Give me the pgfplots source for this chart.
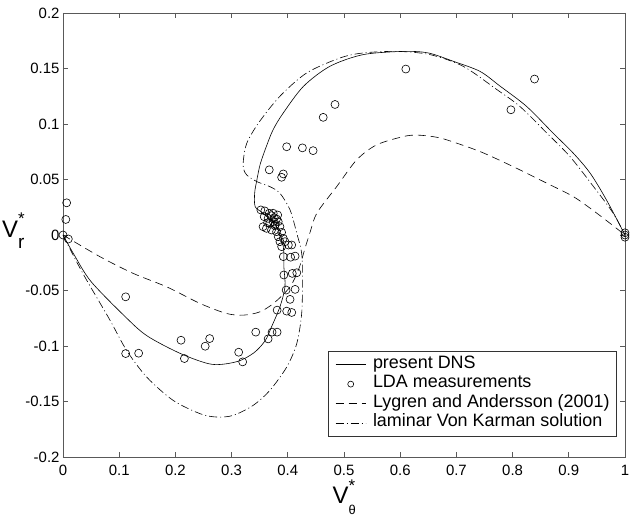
\documentclass[border=0pt]{standalone}
\usepackage{fontspec}
\setmainfont{Liberation Sans}
\usepackage{pgfplots}
\pgfplotsset{compat=1.18}
\pgfplotsset{circlegend/.style={legend image code/.code={\draw[##1, mark size=3bp] plot coordinates {(15bp,0bp)};}}}
\newcommand{\Vth}{{\fontsize{24}{24}\selectfont V}\rlap{\raisebox{-11bp}{\fontsize{13}{13}\selectfont θ}}\raisebox{12bp}{\fontsize{17}{17}\selectfont *}}
\newcommand{\Vr}{{\fontsize{24}{24}\selectfont V}\rlap{\raisebox{-11bp}{\fontsize{19}{19}\selectfont r}}\raisebox{13bp}{\fontsize{17}{17}\selectfont *}}
\begin{document}
\begin{tikzpicture}
\begin{axis}[
  scale only axis, width=562bp, height=444bp,
  xmin=0, xmax=1, ymin=-0.2, ymax=0.2,
  xtick={0,0.1,0.2,0.3,0.4,0.5,0.6,0.7,0.8,0.9,1},
  ytick={-0.2,-0.15,-0.1,-0.05,0,0.05,0.1,0.15,0.2},
  scaled ticks=false,
  /pgf/number format/assume math mode=true,
  tick align=inside, major tick length=5bp,
  axis line style={black!65, line width=0.9bp},
  every tick/.style={black!65, line width=0.9bp},
  tick label style={font=\fontsize{15}{15}\selectfont},
  yticklabel style={/pgf/number format/fixed, /pgf/number format/precision=2},
  xticklabel style={/pgf/number format/fixed, /pgf/number format/precision=1, yshift=-5bp},
  xlabel={\Vth},
  ylabel={\Vr},
  xlabel style={at={(axis description cs:0.5,0)}, anchor=base, yshift=-46bp, inner sep=0pt},
  ylabel style={at={(axis description cs:0,0.5)}, rotate=-90, anchor=base west, xshift=-61bp, yshift=-2bp, inner sep=0pt},
  legend style={at={(axis description cs:0.9858,0.045)}, anchor=south east,
    draw=black!80, line width=0.8bp, fill=white,
    inner xsep=7bp, inner ysep=3.75bp,
    font=\fontsize{18}{19.5}\selectfont,
    nodes={inner xsep=0bp, inner ysep=1bp, text height=12.5bp, text depth=5bp},
    column sep=7bp},
  legend cell align=left,
  legend image code/.code={\draw[#1] (0bp,0bp) -- (30bp,0bp);},
]
\addplot[black, line width=0.6bp, smooth, tension=0.5] coordinates {
(0,0) (0.02,-0.018) (0.05,-0.042) (0.1115,-0.074) (0.15,-0.091) (0.21,-0.107)
(0.265,-0.1165) (0.31,-0.114) (0.34,-0.106) (0.36,-0.095) (0.371,-0.0828)
(0.386,-0.0647) (0.395,-0.0467) (0.393,-0.0286) (0.392,-0.0105) (0.38,0.0075)
(0.356,0.0196) (0.342,0.0255) (0.341,0.0376) (0.345,0.0497) (0.351,0.064)
(0.362,0.08) (0.374,0.095) (0.392,0.11) (0.428,0.134) (0.475,0.152)
(0.534,0.1625) (0.6056,0.1654) (0.65,0.164) (0.695,0.1564) (0.742,0.1474)
(0.778,0.134) (0.825,0.1158) (0.872,0.0918) (0.908,0.0737) (0.938,0.0557)
(0.967,0.0316) (1,0)
};
\addlegendentry{present DNS}
\addplot[only marks, mark=o, mark size=4bp, black, line width=0.6bp, circlegend] coordinates {
(0.0065,0.029) (0.005,0.014) (0,0) (0.0095,-0.0036)
(0.1115,-0.0557) (0.1115,-0.1068) (0.1346,-0.1065) (0.210,-0.0948) (0.216,-0.1113)
(0.253,-0.1002) (0.261,-0.0933) (0.3126,-0.1056) (0.3197,-0.1143) (0.343,-0.0875)
(0.365,-0.0936) (0.372,-0.0875) (0.381,-0.0875) (0.381,-0.0677) (0.398,-0.0686)
(0.407,-0.0698) (0.404,-0.058) (0.397,-0.0496) (0.413,-0.049) (0.393,-0.036)
(0.408,-0.0346) (0.416,-0.034) (0.392,-0.0195) (0.405,-0.020) (0.413,-0.019)
(0.352,0.0226) (0.359,0.0217) (0.367,0.0196) (0.371,0.0174) (0.376,0.0156)
(0.380,0.0144) (0.383,0.012) (0.358,0.0165) (0.365,0.015) (0.374,0.012)
(0.378,0.0096) (0.386,0.0075) (0.368,0.0105) (0.362,0.006) (0.371,0.0045)
(0.380,0.003) (0.389,0.0024) (0.383,-0.0015) (0.392,-0.003) (0.395,-0.006)
(0.386,-0.006) (0.401,-0.009) (0.389,-0.0105) (0.407,-0.009) (0.377,0.0084)
(0.382,0.018) (0.374,0.0196) (0.364,0.011) (0.356,0.0075)
(0.367,0.0587) (0.392,0.055) (0.389,0.052) (0.398,0.0795) (0.426,0.0785)
(0.445,0.076) (0.463,0.106) (0.484,0.1176) (0.610,0.1495) (0.797,0.1128)
(0.839,0.1405) (1,0.002) (1,-0.002) (1,0)
};
\addlegendentry{LDA measurements}
\addplot[black, line width=0.6bp, dash pattern=on 8bp off 5bp, smooth, tension=0.5] coordinates {
(0,0) (0.066,-0.0196) (0.125,-0.0346) (0.1845,-0.0467) (0.244,-0.0617)
(0.291,-0.0707) (0.321,-0.0722) (0.3505,-0.0692) (0.376,-0.061) (0.404,-0.0467)
(0.42,-0.03) (0.43,-0.013) (0.44,0.003) (0.452,0.02) (0.487,0.0436)
(0.5226,0.0677) (0.558,0.0812) (0.6056,0.0887) (0.63,0.09) (0.66,0.0885)
(0.683,0.0857) (0.742,0.0752) (0.801,0.0616) (0.861,0.0466) (0.908,0.0346)
(0.950,0.0196) (1,0)
};
\addlegendentry{Lygren and Andersson (2001)}
\addplot[black, line width=0.6bp, dash pattern=on 8bp off 3bp on 1bp off 3bp, smooth, tension=0.5] coordinates {
(0,0) (0.02,-0.02) (0.042,-0.0406) (0.0836,-0.0767) (0.113,-0.1038) (0.149,-0.128)
(0.196,-0.149) (0.244,-0.161) (0.2735,-0.164) (0.303,-0.1625) (0.3386,-0.1534)
(0.368,-0.14) (0.398,-0.119) (0.416,-0.0977) (0.4247,-0.0707) (0.426,-0.0406)
(0.4247,-0.0165) (0.416,0.0015) (0.404,0.0226) (0.386,0.0376) (0.368,0.0436)
(0.345,0.0481) (0.327,0.054) (0.321,0.06) (0.321,0.0677) (0.327,0.0827)
(0.348,0.101) (0.386,0.125) (0.4336,0.146) (0.493,0.1595) (0.534,0.164)
(0.594,0.1654) (0.653,0.1625) (0.712,0.152) (0.772,0.131) (0.813,0.1158)
(0.861,0.0918) (0.902,0.0707) (0.944,0.0436) (0.979,0.0196) (1,0)
};
\addlegendentry{laminar Von Karman solution}
\end{axis}
\pgfresetboundingbox
\path (-63bp,-61bp) rectangle (575bp,457bp);
\end{tikzpicture}
\end{document}
